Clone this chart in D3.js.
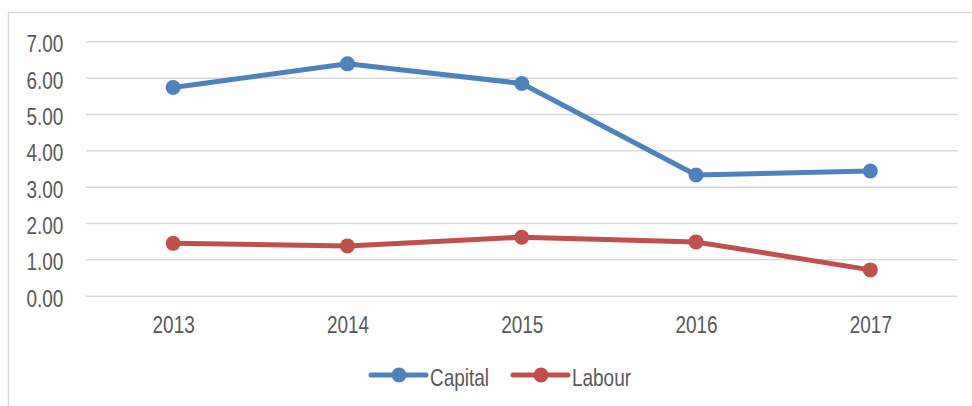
<!DOCTYPE html>
<html>
<head>
<meta charset="utf-8">
<script src="https://cdn.jsdelivr.net/npm/d3@7"></script>
<style>
  body { margin: 0; background: #fff; }
  text { font-family: "Liberation Sans", Arial, sans-serif; fill: #595959; }
</style>
</head>
<body>
<svg id="chart"></svg>
<script>
var w = 972;
var h = 406;

// data
var years = ["2013", "2014", "2015", "2016", "2017"];
var capital = [5.73, 6.38, 5.84, 3.32, 3.43];
var labour = [1.44, 1.37, 1.61, 1.48, 0.71];
var yTicks = [0, 1, 2, 3, 4, 5, 6, 7];

var series = [
  {name: "Capital", values: capital, color: "#4F81BD"},
  {name: "Labour", values: labour, color: "#C0504D"}
];

var fontSize = 24;
var squeeze = 0.79; // the original uses a narrow face, fake it

var svg = d3.select("#chart")
  .attr("width", w)
  .attr("height", h);

// outer frame of the chart
svg.append("rect")
  .attr("x", 8.5)
  .attr("y", 12.5)
  .attr("width", w)
  .attr("height", h)
  .attr("fill", "none")
  .attr("stroke", "#d9d9d9")
  .attr("stroke-width", 1.5);

var left = 86, right = 957.5;
var xScale = d3.scalePoint()
  .domain(years)
  .range([left, right])
  .padding(0.5);

var yScale = d3.scaleLinear()
  .domain([0, 7])
  .range([295.7, 41.3]);

// grid + y labels
var yAxis = d3.axisLeft(yScale)
  .tickValues(yTicks)
  .tickSize(-(right - left))
  .tickFormat(d3.format(".2f"));

var gy = svg.append("g")
  .attr("transform", "translate(" + left + ",0)")
  .call(yAxis);
gy.select(".domain").remove();
gy.selectAll("line").attr("stroke", "#d9d9d9").attr("stroke-width", 1.5);
gy.selectAll("text")
  .attr("font-size", fontSize)
  .attr("fill", "#595959")
  .attr("x", -(left - 63.3) / squeeze)
  .attr("dy", "0.44em")
  .attr("transform", "scale(" + squeeze + ",1)");

var xAxis = d3.axisBottom(xScale).tickSize(0).tickPadding(0);
var gx = svg.append("g")
  .attr("transform", "translate(0," + yScale(0) + ")")
  .call(xAxis);
gx.select(".domain").remove();
gx.selectAll("text")
  .attr("font-size", fontSize)
  .attr("fill", "#595959")
  .attr("y", 37.6)
  .attr("dy", null)
  .attr("transform", "scale(" + squeeze + ",1)");

var line = d3.line()
  .x(function(d, i) { return xScale(years[i]); })
  .y(function(d) { return yScale(d); });

series.forEach(function(s) {
  var g = svg.append("g");
  g.append("path")
    .datum(s.values)
    .attr("d", line)
    .attr("fill", "none")
    .attr("stroke", s.color)
    .attr("stroke-width", 5)
    .attr("stroke-linejoin", "round");
  g.selectAll("circle")
    .data(s.values)
    .enter()
    .append("circle")
    .attr("cx", function(d, i) { return xScale(years[i]); })
    .attr("cy", function(d) { return yScale(d); })
    .attr("r", 7.5)
    .attr("fill", s.color);
});

// legend
var legendX = [371, 513];
var legend = svg.append("g")
  .selectAll("g")
  .data(series)
  .enter()
  .append("g")
  .attr("transform", function(d, i) { return "translate(" + legendX[i] + ",375)"; });

legend.append("line")
  .attr("x1", 0).attr("x2", 55)
  .attr("y1", 0).attr("y2", 0)
  .attr("stroke", function(d) { return d.color; })
  .attr("stroke-width", 5)
  .attr("stroke-linecap", "round");
legend.append("circle")
  .attr("cx", 28).attr("cy", 0).attr("r", 7.5)
  .attr("fill", function(d) { return d.color; });
legend.append("text")
  .text(function(d) { return d.name; })
  .attr("x", 59 / squeeze)
  .attr("y", 10.7)
  .attr("font-size", fontSize)
  .attr("transform", "scale(" + squeeze + ",1)");
</script>
</body>
</html>
